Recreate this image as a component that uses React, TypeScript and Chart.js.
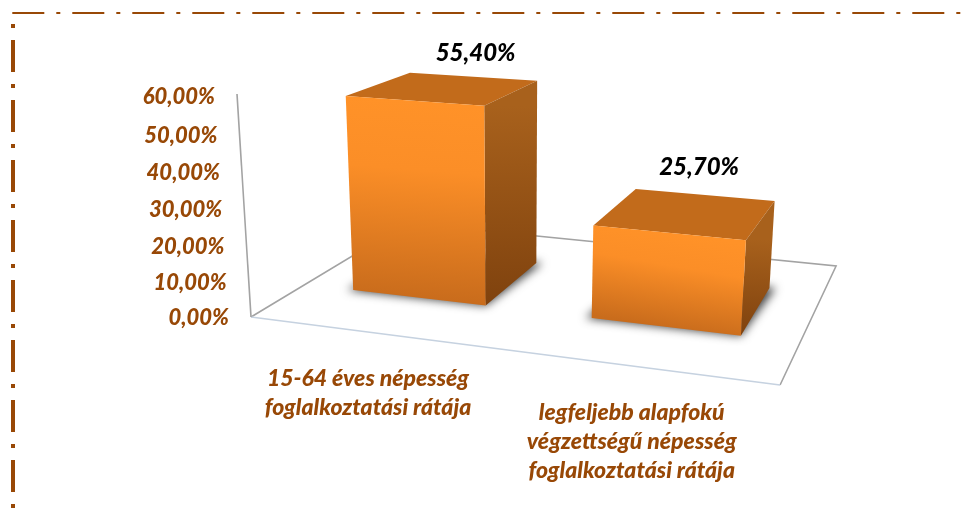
import React, { useEffect, useRef } from "react";
import { Chart, registerables } from "chart.js";

Chart.register(...registerables);

const categories = [
  ["15-64 éves népesség", "foglalkoztatási rátája"],
  ["legfeljebb alapfokú", "végzettségű népesség", "foglalkoztatási rátája"],
];
const values = [55.4, 25.7];
const yTickLabels = ["0,00%", "10,00%", "20,00%", "30,00%", "40,00%", "50,00%", "60,00%"];

const BROWN = "#984806";
const FONT = "Lato";

// Perspective camera: s along the category axis, t into the depth, h up the value axis (all 0..1)
const project = (s: number, t: number, h: number) => {
  const w = -0.1202 * s + 0.2488 * t - 0.05 * h + 1;
  return {
    x: (435.3 * s + 257.3 * t + 251 - 25.85 * h) / w,
    y: (21.7 * s - 38.5 * t + 317 - 227.7 * h) / w,
  };
};

const path = (ctx: CanvasRenderingContext2D, pts: { x: number; y: number }[]) => {
  ctx.beginPath();
  pts.forEach((p, i) => (i ? ctx.lineTo(p.x, p.y) : ctx.moveTo(p.x, p.y)));
  ctx.closePath();
};

const frame = {
  id: "frame",
  beforeDraw(chart: any) {
    const { ctx, scales } = chart;
    const area = chart.chartArea;
    // page frame
    ctx.save();
    ctx.strokeStyle = BROWN;
    ctx.lineWidth = 2;
    ctx.setLineDash([32, 12, 4, 12]);
    ctx.beginPath();
    ctx.moveTo(12.3, 13);
    ctx.lineTo(961, 13);
    ctx.stroke();
    ctx.lineWidth = 4;
    ctx.setLineDash([4, 12, 32, 12]);
    ctx.beginPath();
    ctx.moveTo(13, 24);
    ctx.lineTo(13, 508);
    ctx.stroke();
    ctx.restore();

    // slanted axis labels follow the projection
    const yS = scales.y;
    yS.getLabelItems(area).forEach((item: any, i: number) => {
      const h = (area.bottom - yS.getPixelForTick(i)) / (area.bottom - area.top);
      const p = project(0, 0, h);
      item.options.translation = [p.x - 22, p.y + 1 + 2 * h];
    });
    const xS = scales.x;
    xS.getLabelItems(area).forEach((item: any, i: number) => {
      const s = (xS.getPixelForTick(i) - area.left) / (area.right - area.left);
      const p = project(s, 0, 0);
      item.options.translation = [p.x - 3, p.y + 32];
    });
  },
};

const bars3d = {
  id: "bars3d",
  beforeDatasetsDraw(chart: any) {
    const { ctx } = chart;
    const area = chart.chartArea;
    const W = area.right - area.left;
    const H = area.bottom - area.top;
    const T0 = 0.3;
    const T1 = 0.72;

    // floor
    const fl = project(0, 0, 0), fr = project(1, 0, 0), br = project(1, 1, 0), bl = project(0, 1, 0);
    ctx.save();
    ctx.lineWidth = 1.6;
    ctx.strokeStyle = "#a3a3a3";
    ctx.beginPath();
    ctx.moveTo(fl.x, fl.y);
    ctx.lineTo(bl.x, bl.y);
    ctx.lineTo(br.x, br.y);
    ctx.lineTo(fr.x, fr.y);
    ctx.stroke();
    ctx.strokeStyle = "#c6d2e0";
    ctx.beginPath();
    ctx.moveTo(fl.x, fl.y);
    ctx.lineTo(fr.x, fr.y);
    ctx.stroke();
    // value axis
    const top = project(0, 0, 1);
    ctx.strokeStyle = "#a3a3a3";
    ctx.beginPath();
    ctx.moveTo(fl.x, fl.y);
    ctx.lineTo(top.x, top.y);
    ctx.stroke();
    ctx.restore();

    chart.getDatasetMeta(0).data.forEach((bar: any) => {
      const s0 = (bar.x - bar.width / 2 - area.left) / W;
      const s1 = (bar.x + bar.width / 2 - area.left) / W;
      const h = (bar.base - bar.y) / H;
      const a = project(s0, T0, 0), b = project(s1, T0, 0), c = project(s1, T1, 0), d = project(s0, T1, 0);
      const A = project(s0, T0, h), B = project(s1, T0, h), C = project(s1, T1, h), D = project(s0, T1, h);

      // soft floor shadow (shape is drawn off-canvas, only its blur lands here)
      ctx.save();
      const OFF = 3000;
      ctx.shadowColor = "rgba(0,0,0,0.75)";
      ctx.shadowBlur = 10;
      ctx.shadowOffsetX = OFF;
      ctx.fillStyle = "#000";
      path(ctx, [
        { x: a.x - 6 - OFF, y: a.y },
        { x: b.x - OFF, y: b.y },
        { x: c.x + 6 - OFF, y: c.y },
        { x: d.x + 6 - OFF, y: d.y },
      ]);
      ctx.fill();
      ctx.restore();

      // top
      ctx.fillStyle = "#c26b1b";
      path(ctx, [A, B, C, D]);
      ctx.fill();

      // side
      let g = ctx.createLinearGradient(C.x, B.y, c.x, b.y);
      g.addColorStop(0, "#a8611c");
      g.addColorStop(1, "#7f420e");
      ctx.fillStyle = g;
      path(ctx, [B, C, c, b]);
      ctx.fill();

      // front
      const mx = (A.x + B.x) / 2;
      const my0 = (A.y + B.y) / 2;
      const my1 = (a.y + b.y) / 2;
      g = ctx.createLinearGradient(mx + 8, my0, mx - 8, my1);
      g.addColorStop(0, "#ff9228");
      g.addColorStop(0.35, "#fb8e27");
      g.addColorStop(1, "#c96c1c");
      ctx.fillStyle = g;
      path(ctx, [A, B, b, a]);
      ctx.fill();
    });
  },
  afterDatasetsDraw(chart: any) {
    const { ctx } = chart;
    const area = chart.chartArea;
    const W = area.right - area.left;
    const H = area.bottom - area.top;
    ctx.save();
    ctx.font = `italic 900 24px ${FONT}`;
    ctx.fillStyle = "#000";
    ctx.textAlign = "center";
    ctx.textBaseline = "middle";
    chart.getDatasetMeta(0).data.forEach((bar: any, i: number) => {
      const s = (bar.x - area.left) / W;
      const h = (bar.base - bar.y) / H;
      const p = project(s, 0.72, h);
      ctx.fillText(values[i].toFixed(2).replace(".", ",") + "%", p.x + 7 - 16 * s, p.y - 20.5 - 10 * s);
    });
    ctx.restore();
  },
};

export default function App() {
  const ref = useRef<HTMLCanvasElement>(null);
  useEffect(() => {
    const chart = new Chart(ref.current as HTMLCanvasElement, {
      type: "bar",
      data: {
        labels: categories as any,
        datasets: [
          {
            data: values,
            backgroundColor: "transparent",
            borderWidth: 0,
            categoryPercentage: 1,
            barPercentage: 0.57,
          },
        ],
      },
      options: {
        animation: false,
        responsive: false,
        devicePixelRatio: 1,
        layout: { padding: { left: 0, top: 94, right: 189, bottom: 0 } },
        plugins: { legend: { display: false }, tooltip: { enabled: false }, title: { display: false } },
        scales: {
          x: {
            grid: { display: false },
            border: { display: false },
            afterFit: (scale: any) => {
              scale.height = 191;
            },
            ticks: {
              autoSkip: false,
              maxRotation: 0,
              minRotation: 0,
              color: BROWN,
              font: { family: FONT, size: 23, weight: "900", style: "italic", lineHeight: 1.26 },
            },
          },
          y: {
            min: 0,
            max: 60,
            grid: { display: false },
            border: { display: false },
            afterFit: (scale: any) => {
              scale.width = 251;
            },
            ticks: {
              stepSize: 10,
              color: BROWN,
              callback: (v: any) => yTickLabels[Math.round(v / 10)],
              font: { family: FONT, size: 22, weight: "900", style: "italic" },
            },
          },
        },
      },
      plugins: [frame, bars3d],
    } as any);
    return () => chart.destroy();
  }, []);
  return (
    <div style={{ position: "fixed", left: 0, top: 0, width: 969, height: 508, background: "#fff" }}>
      <canvas ref={ref} width={969} height={508} style={{ display: "block" }} />
    </div>
  );
}
